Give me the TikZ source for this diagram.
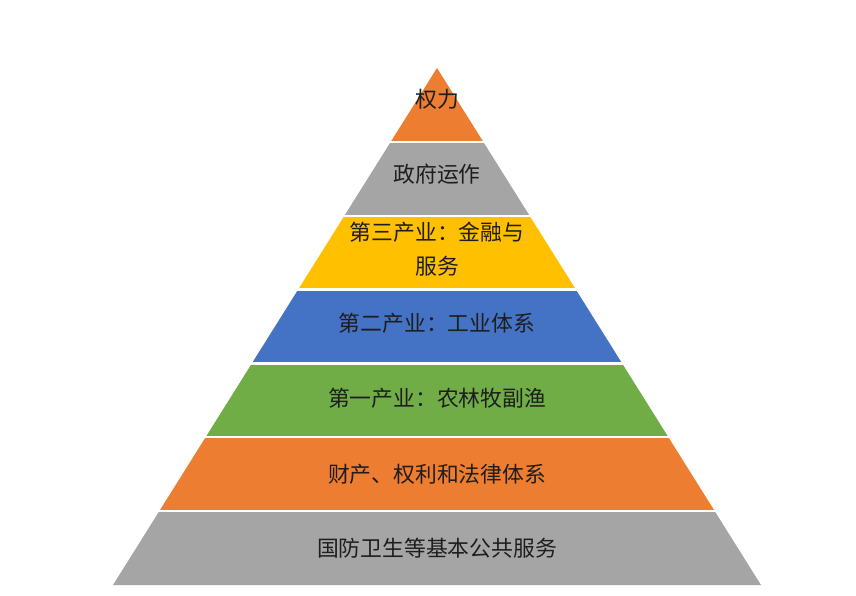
\documentclass[tikz,border=0pt]{standalone}
\usepackage{fontspec}
\newfontfamily\cjk{Noto Sans CJK SC}
\definecolor{tierorange}{RGB}{237,125,49}
\definecolor{tiergray}{RGB}{165,165,165}
\definecolor{tieryellow}{RGB}{255,192,0}
\definecolor{tierblue}{RGB}{68,114,196}
\definecolor{tiergreen}{RGB}{112,173,71}
\definecolor{labeltext}{RGB}{30,30,30}

\begin{document}
\begin{tikzpicture}[
  x=1pt, y=-1pt,
  tier/.style={text=labeltext, align=center, inner sep=0pt,
               font={\cjk\fontsize{21.8}{34}\selectfont}},
  gap/.style={white, line width=2.2pt}
]
\useasboundingbox (0,0) rectangle (856,596);

% pyramid bands, apex (437,68), base y=585
\foreach \c [count=\i from 0] in {tierorange,tiergray,tieryellow,tierblue,tiergreen,tierorange,tiergray}{
  \pgfmathsetmacro\yt{68+\i*517/7}
  \pgfmathsetmacro\yb{68+(\i+1)*517/7}
  \pgfmathsetmacro\wt{324*\i/7}
  \pgfmathsetmacro\wb{324*(\i+1)/7}
  \fill[\c] (437-\wt,\yt) -- (437+\wt,\yt) -- (437+\wb,\yb) -- (437-\wb,\yb) -- cycle;
}
\foreach \i in {1,...,6}{
  \pgfmathsetmacro\ys{68+\i*517/7}
  \draw[gap] (90,\ys) -- (790,\ys);
}

% labels
\node[tier] (power)     at (437,99)  {权力};
\node[tier] (govern)    at (437,174) {政府运作};
\node[tier] (tertiary)  at (437,249) {第三产业：金融与\\服务};
\node[tier] (secondary) at (437,323) {第二产业：工业体系};
\node[tier] (primary)   at (437,398) {第一产业：农林牧副渔};
\node[tier] (property)  at (437,474) {财产、权利和法律体系};
\node[tier] (public)    at (437,548) {国防卫生等基本公共服务};

\end{tikzpicture}
\end{document}
